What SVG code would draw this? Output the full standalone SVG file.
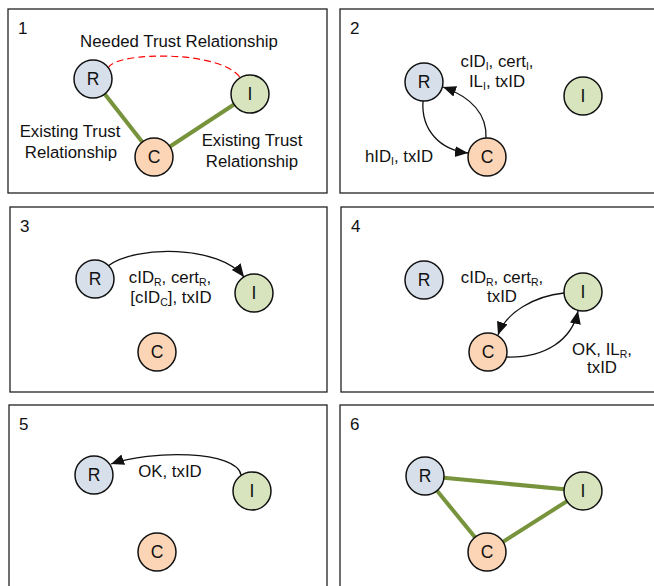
<svg xmlns="http://www.w3.org/2000/svg" width="654" height="586" viewBox="0 0 654 586">
<defs>
<style>
.panel{fill:#fff;stroke:#222;stroke-width:1.3}
.num{font-family:"Liberation Sans",Arial,sans-serif;font-size:17px;fill:#111}
.lbl{font-family:"Liberation Sans",Arial,sans-serif;font-size:16.8px;fill:#111;text-anchor:middle}
.sub{font-size:10.5px}
.node{stroke:#111;stroke-width:1.5}
.r{fill:#d6dfea}
.i{fill:#d7e4bd}
.c{fill:#fbd5b5}
.ntxt{font-family:"Liberation Sans",Arial,sans-serif;font-size:17.5px;fill:#111;text-anchor:middle}
.trust{stroke:#77933c;stroke-width:4;fill:none}
.need{stroke:#ff0000;stroke-width:1.2;stroke-dasharray:7 4;fill:none}
.arr{stroke:#111;stroke-width:1.3;fill:none;marker-end:url(#ah)}
</style>
<marker id="ah" markerUnits="userSpaceOnUse" markerWidth="14" markerHeight="12" refX="13" refY="5.5" orient="auto">
<path d="M0,0 L13,5.5 L0,11 z" fill="#111"/>
</marker>
</defs>
<rect width="654" height="586" fill="#fff"/>

<g id="panels">
<rect class="panel" x="8" y="9" width="319" height="184"/>
<rect class="panel" x="340" y="9" width="330" height="184"/>
<rect class="panel" x="10" y="207" width="317" height="185"/>
<rect class="panel" x="341" y="207" width="330" height="185"/>
<rect class="panel" x="9" y="405" width="318" height="200"/>
<rect class="panel" x="340" y="405" width="330" height="200"/>
<text class="num" x="18" y="34">1</text>
<text class="num" x="350" y="34">2</text>
<text class="num" x="20" y="232">3</text>
<text class="num" x="351" y="232">4</text>
<text class="num" x="19" y="430">5</text>
<text class="num" x="350" y="430">6</text>
</g>

<g id="connectors">
<!-- panel 1 -->
<path class="need" d="M108,68 C115,51 225,50 241,79"/>
<line class="trust" x1="93" y1="79" x2="154" y2="157"/>
<line class="trust" x1="154" y1="157" x2="250" y2="94"/>
<!-- panel 2 -->
<path class="arr" d="M486,138 C487,112 468,96 443,87"/>
<path class="arr" d="M423,101 C421,130 440,150 468,153"/>
<!-- panel 3 -->
<path class="arr" d="M108,266 C135,245 220,245 244,277"/>
<!-- panel 4 -->
<path class="arr" d="M564,293 C535,296 506,312 498,335"/>
<path class="arr" d="M507,357 C545,358 572,340 578,311"/>
<!-- panel 5 -->
<path class="arr" d="M241,475 C237,450 150,450 111,464"/>
<!-- panel 6 -->
<line class="trust" x1="425" y1="476" x2="583" y2="491"/>
<line class="trust" x1="425" y1="476" x2="487" y2="552"/>
<line class="trust" x1="487" y1="552" x2="583" y2="491"/>
</g>

<g id="labels">
<text class="lbl" x="179" y="47">Needed Trust Relationship</text>
<text class="lbl" x="70" y="137">Existing Trust</text>
<text class="lbl" x="71" y="158">Relationship</text>
<text class="lbl" x="252" y="146">Existing Trust</text>
<text class="lbl" x="252" y="167">Relationship</text>

<text class="lbl" x="497" y="67">cID<tspan class="sub" dy="3">I</tspan><tspan dy="-3">, cert</tspan><tspan class="sub" dy="3">I</tspan><tspan dy="-3">,</tspan></text>
<text class="lbl" x="497" y="87">IL<tspan class="sub" dy="3">I</tspan><tspan dy="-3">, txID</tspan></text>
<text class="lbl" x="399" y="162">hID<tspan class="sub" dy="3">I</tspan><tspan dy="-3">, txID</tspan></text>

<text class="lbl" x="170" y="283">cID<tspan class="sub" dy="3">R</tspan><tspan dy="-3">, cert</tspan><tspan class="sub" dy="3">R</tspan><tspan dy="-3">,</tspan></text>
<text class="lbl" x="171" y="303">[cID<tspan class="sub" dy="3">C</tspan><tspan dy="-3">], txID</tspan></text>

<text class="lbl" x="502" y="283">cID<tspan class="sub" dy="3">R</tspan><tspan dy="-3">, cert</tspan><tspan class="sub" dy="3">R</tspan><tspan dy="-3">,</tspan></text>
<text class="lbl" x="502" y="302">txID</text>
<text class="lbl" x="602" y="355">OK, IL<tspan class="sub" dy="3">R</tspan><tspan dy="-3">,</tspan></text>
<text class="lbl" x="602" y="373">txID</text>

<text class="lbl" x="170" y="477">OK, txID</text>
</g>

<g id="p1-R"><circle class="node r" cx="93" cy="79" r="19"/><text class="ntxt" x="93" y="85">R</text></g>
<g id="p1-I"><circle class="node i" cx="250" cy="94" r="19"/><text class="ntxt" x="250" y="100">I</text></g>
<g id="p1-C"><circle class="node c" cx="154" cy="157" r="19"/><text class="ntxt" x="154" y="163">C</text></g>

<g id="p2-R"><circle class="node r" cx="424" cy="82" r="19"/><text class="ntxt" x="424" y="88">R</text></g>
<g id="p2-I"><circle class="node i" cx="583" cy="96" r="19"/><text class="ntxt" x="583" y="102">I</text></g>
<g id="p2-C"><circle class="node c" cx="487" cy="157" r="19"/><text class="ntxt" x="487" y="163">C</text></g>

<g id="p3-R"><circle class="node r" cx="95" cy="279" r="19"/><text class="ntxt" x="95" y="285">R</text></g>
<g id="p3-I"><circle class="node i" cx="254" cy="293" r="19"/><text class="ntxt" x="254" y="299">I</text></g>
<g id="p3-C"><circle class="node c" cx="157" cy="352" r="19"/><text class="ntxt" x="157" y="358">C</text></g>

<g id="p4-R"><circle class="node r" cx="424" cy="280" r="19"/><text class="ntxt" x="424" y="286">R</text></g>
<g id="p4-I"><circle class="node i" cx="583" cy="292" r="19"/><text class="ntxt" x="583" y="298">I</text></g>
<g id="p4-C"><circle class="node c" cx="488" cy="352" r="19"/><text class="ntxt" x="488" y="358">C</text></g>

<g id="p5-R"><circle class="node r" cx="94" cy="475" r="19"/><text class="ntxt" x="94" y="481">R</text></g>
<g id="p5-I"><circle class="node i" cx="252" cy="491" r="19"/><text class="ntxt" x="252" y="497">I</text></g>
<g id="p5-C"><circle class="node c" cx="157" cy="552" r="19"/><text class="ntxt" x="157" y="558">C</text></g>

<g id="p6-R"><circle class="node r" cx="425" cy="476" r="19"/><text class="ntxt" x="425" y="482">R</text></g>
<g id="p6-I"><circle class="node i" cx="583" cy="491" r="19"/><text class="ntxt" x="583" y="497">I</text></g>
<g id="p6-C"><circle class="node c" cx="487" cy="552" r="19"/><text class="ntxt" x="487" y="558">C</text></g>
</svg>
